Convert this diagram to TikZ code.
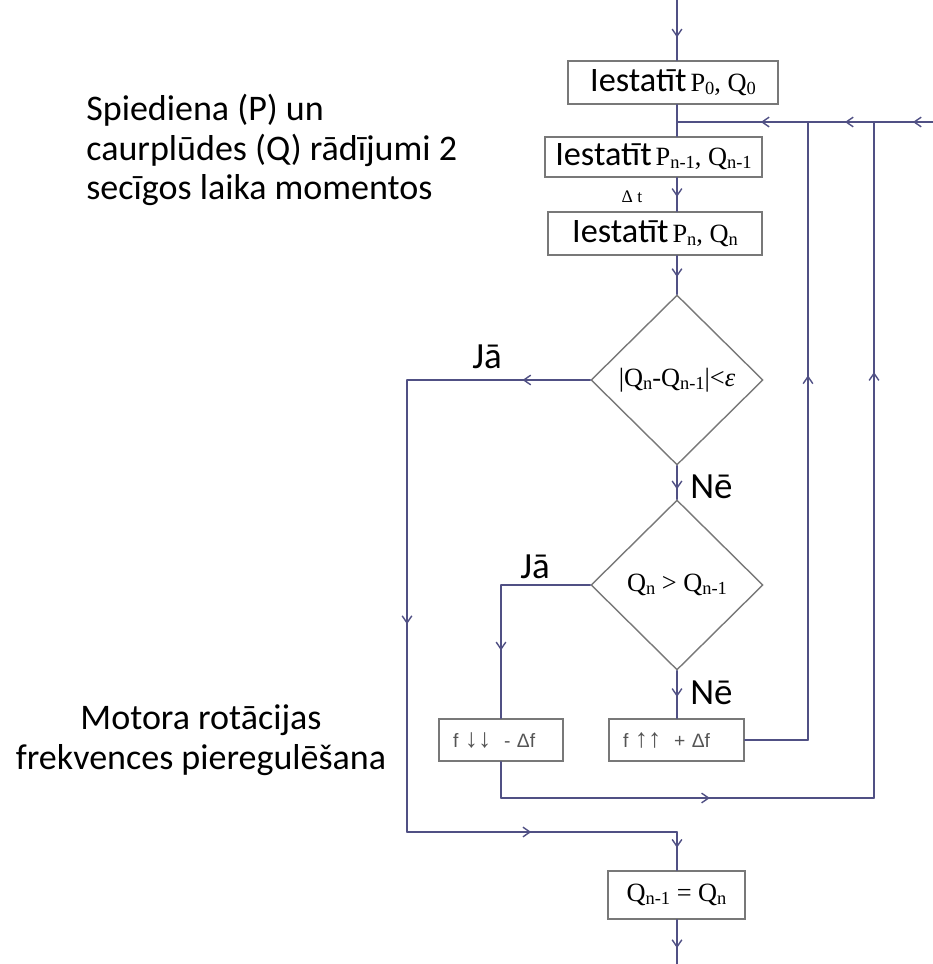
\documentclass[tikz,border=0pt]{standalone}
\usepackage{fontspec}
\setmainfont{Carlito}
\newfontfamily\tnr{Liberation Serif}
\newfontfamily\arl{Liberation Sans}
\usetikzlibrary{shapes.geometric,decorations.markings,arrows.meta}
\definecolor{flowblue}{RGB}{80,80,132}
\definecolor{boxgray}{RGB}{120,120,120}
\definecolor{fgray}{RGB}{85,85,85}
\newcommand{\ix}[1]{\raisebox{-0.25ex}{\fontsize{10.5}{10}\selectfont #1}}
\newcommand{\vals}[1]{{\tnr\fontsize{15}{15}\selectfont #1}}
\newcommand{\ies}{{\fontsize{19.5}{20}\selectfont Iestatīt}}
\newcommand{\farr}[1]{{\fontsize{15}{12}\selectfont #1}}
\tikzset{
  box/.style={draw=boxgray, line width=0.8pt, inner sep=0pt},
  fbox/.style={box, align=left, inner xsep=0.28cm, minimum height=0.84cm,
    font=\arl\fontsize{11}{12}\selectfont, text=fgray},
  decision/.style={diamond, draw=boxgray, line width=0.8pt, inner sep=0pt,
    minimum width=3.44cm, minimum height=3.4cm},
  flow/.style={draw=flowblue, color=flowblue, line width=0.8pt, line cap=round},
  midarrow/.style={flow, postaction={decorate, decoration={markings,
    mark=at position #1 with {\arrow{Straight Barb[length=4pt,width=5.5pt]}}}}},
  answer/.style={font=\fontsize{21}{22}\selectfont, inner sep=0pt},
  note/.style={font=\fontsize{20.5}{22.7}\selectfont, inner sep=0pt}
}
\begin{document}
\begin{tikzpicture}[x=0.02cm,y=-0.02cm]
\useasboundingbox (0,0) rectangle (933,964);
\node[note, anchor=west, align=left] (note1) at (86,150) {Spiediena (P) un\\caurplūdes (Q) rādījumi 2\\secīgos laika momentos};
\node[note, align=center] (note2) at (201,740) {Motora rotācijas\\frekvences pieregulēšana};
\node[box, minimum width=4.2cm, minimum height=0.86cm] (b1) at (673,82.5) {\ies~\vals{P\ix{0}, Q\ix{0}}};
\node[box, minimum width=4.34cm, minimum height=0.8cm] (b2) at (653.5,157) {\ies~\vals{P\ix{n-1}, Q\ix{n-1}}};
\node[box, minimum width=4.28cm, minimum height=0.86cm] (b3) at (655,233.5) {\ies~\vals{P\ix{n}, Q\ix{n}}};
\node[decision] (d1) at (677,380) {\vals{|Q\ix{n}-Q\ix{n-1}|<\textit{ε}}};
\node[decision] (d2) at (677,585) {\vals{Q\ix{n} > Q\ix{n-1}}};
\node[fbox, text width=1.92cm] (bf1) at (501,740) {f \farr{↓↓}~~- Δf};
\node[fbox, text width=2.14cm] (bf2) at (676.5,740) {f \farr{↑↑}~~+ Δf};
\node[box, minimum width=2.74cm, minimum height=0.96cm] (b4) at (676.5,895) {\vals{Q\ix{n-1} = Q\ix{n}}};
\node[inner sep=0pt, font=\tnr\fontsize{10}{10}\selectfont] (dt) at (632,197) {Δ t};
\node[answer] (ja1) at (487,357) {Jā};
\node[answer] (ja2) at (535,567) {Jā};
\node[answer, anchor=west] (ne1) at (690,487) {Nē};
\node[answer, anchor=west] (ne2) at (690,693) {Nē};
\coordinate (in) at (677,0);
\coordinate (out) at (677,964);
\coordinate (j0) at (677,122);
\coordinate (j1) at (808,122);
\coordinate (j2) at (874,122);
\coordinate (jr) at (933,122);
\coordinate (ja) at (407,380);
\coordinate (jb) at (407,832);
\coordinate (jc) at (677,832);
\coordinate (ka) at (501,585);
\coordinate (ma) at (808,740);
\coordinate (mb) at (501,798);
\coordinate (mc) at (874,798);
\draw[midarrow=0.62] (in) -- (b1.north -| in);
\draw[flow] (b1.south -| in) -- (j0) -- (b2.north -| in);
\draw[midarrow=0.34] (jr) -- (j2);
\draw[midarrow=0.44] (j2) -- (j1);
\draw[midarrow=0.36] (j1) -- (j0);
\draw[midarrow=0.57] (b2.south -| in) -- (b3.north -| in);
\draw[midarrow=0.55] (b3.south -| in) -- (d1.north);
\draw[midarrow=0.37] (d1.west) -- (ja);
\draw[midarrow=0.54] (ja) -- (jb);
\draw[midarrow=0.46] (jb) -- (jc);
\draw[midarrow=0.41] (jc) -- (b4.north -| in);
\draw[midarrow=0.64] (b4.south -| in) -- (out);
\draw[midarrow=0.7] (d1.south) -- (d2.north);
\draw[flow] (d2.west) -- (ka);
\draw[midarrow=0.49] (ka) -- (bf1.north);
\draw[midarrow=0.55] (d2.south) -- (bf2.north -| in);
\draw[flow] (bf2.east) -- (ma);
\draw[midarrow=0.59] (ma) -- (j1);
\draw[flow] (bf1.south) -- (mb);
\draw[midarrow=0.56] (mb) -- (mc);
\draw[midarrow=0.63] (mc) -- (j2);
\end{tikzpicture}
\end{document}
